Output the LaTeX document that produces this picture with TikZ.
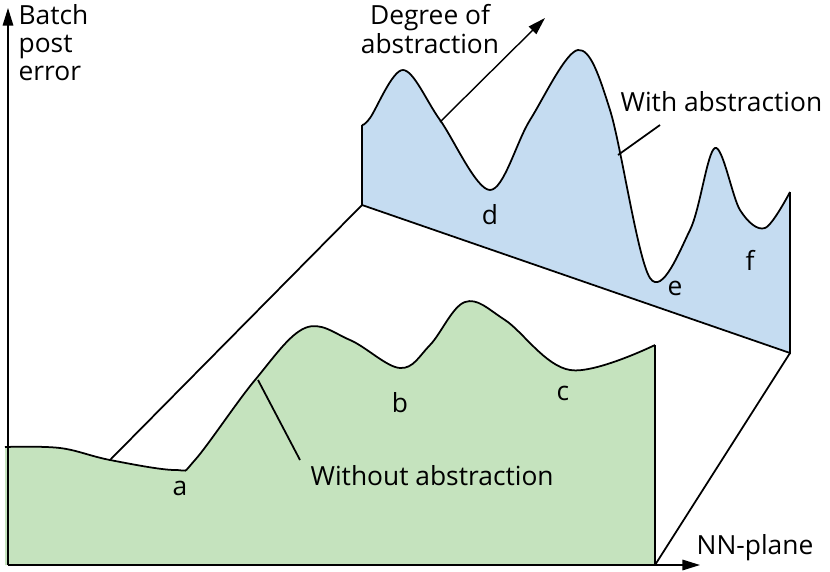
\documentclass[tikz,border=0pt]{standalone}
\usepackage{fontspec}
\setmainfont{Open Sans}
\usetikzlibrary{arrows.meta}
\definecolor{greenfill}{RGB}{197,227,190}
\definecolor{bluefill}{RGB}{197,220,241}
\tikzset{
  lbl/.style={font=\fontsize{15}{17}\selectfont, inner sep=1pt},
  axis/.style={-{Triangle[length=10pt,width=6pt]}, thick},
}
\begin{document}
\begin{tikzpicture}[x=0.02cm,y=-0.02cm, line width=1pt]
  \useasboundingbox (0,0) rectangle (830,571);
  % regions
  \coordinate (G0) at (5,565);
  \coordinate (G1) at (655,565);
  \coordinate (B0) at (362,205);
  \coordinate (B1) at (790,353);
  \coordinate (Gc) at (110,460);
  \fill[greenfill] (G0) -- (5,447)
    -- plot[smooth,tension=.6] coordinates {(5,447) (60,448) (110,460) (175,470) (195,460) (255,380) (305,328) (350,340) (400,368) (430,345) (465,302) (505,320) (570,370) (655,345)}
    -- (G1) -- cycle;
  \draw plot[smooth,tension=.6] coordinates {(5,447) (60,448) (110,460) (175,470) (195,460) (255,380) (305,328) (350,340) (400,368) (430,345) (465,302) (505,320) (570,370) (655,345)};
  \draw (655,345) -- (G1);
  \fill[bluefill] (B0) -- (362,125)
    -- plot[smooth,tension=.55] coordinates {(362,125) (370,118) (403,70) (440,120) (490,190) (530,120) (578,50) (610,110) (650,278) (690,230) (715,148) (740,210) (765,228) (790,192)}
    -- (B1) -- cycle;
  \draw (B0) -- (362,125);
  \draw plot[smooth,tension=.55] coordinates {(362,125) (370,118) (403,70) (440,120) (490,190) (530,120) (578,50) (610,110) (650,278) (690,230) (715,148) (740,210) (765,228) (790,192)};
  \draw (790,192) -- (B1) -- (B0);
  % connectors
  \draw (Gc) -- (B0);
  \draw (B1) -- (G1);
  % axes
  \coordinate (O) at (8,565);
  \draw[axis] (O) -- (8,8);
  \draw[axis] (O) -- (700,565);
  \draw[axis] (440,122) -- (545,18);
  % labels
  \node[lbl, align=left, anchor=north west] (yl) at (16,2) {Batch\\[-1pt]post\\[-1pt]error};
  \node[lbl, anchor=west] (xl) at (694,548) {NN-plane};
  \node[lbl, align=center] (dl) at (430,29) {Degree of\\[-1pt]abstraction};
  \node[lbl, anchor=west] (wl) at (618,102) {With abstraction};
  \node[lbl, anchor=west] (wol) at (308,476) {Without abstraction};
  \draw (660,125) -- (618,155);
  \draw (300,460) -- (258,380);
  \foreach \n/\x/\y in {a/180/488, b/400/403, c/563/393, d/490/215, e/675/288, f/750/260}
    \node[lbl] (\n) at (\x,\y) {\n};
\end{tikzpicture}
\end{document}
